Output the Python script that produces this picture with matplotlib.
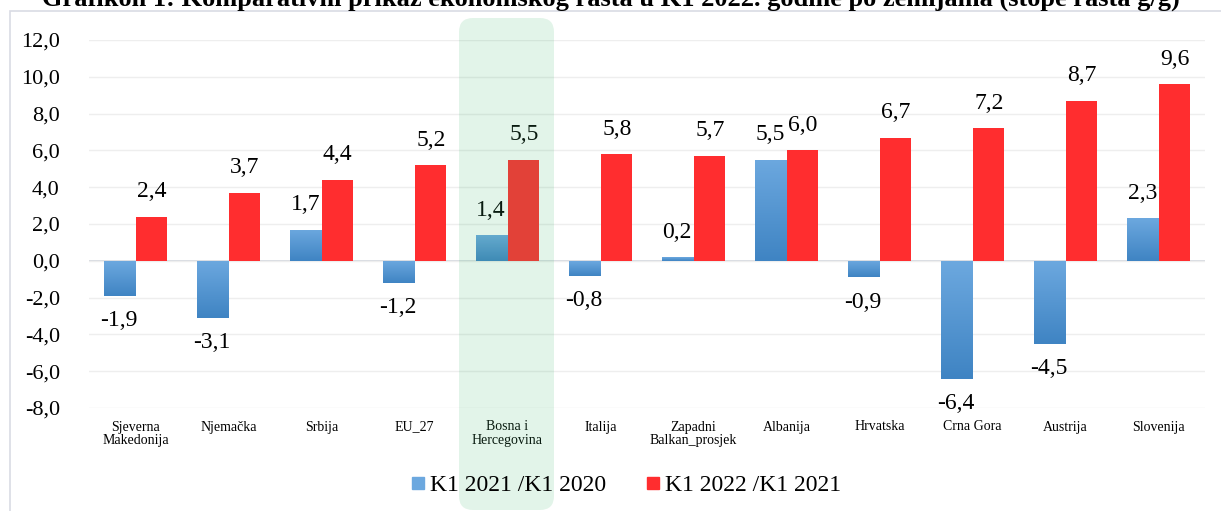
import numpy as np
import matplotlib
matplotlib.use("Agg")
import matplotlib.pyplot as plt
from matplotlib.patches import FancyBboxPatch, Rectangle
from matplotlib.colors import LinearSegmentedColormap

plt.rcParams["font.family"] = ["Liberation Serif", "DejaVu Serif"]

# ─────────────────────────────────────────────
# 資料
# ─────────────────────────────────────────────
categories = [
    "Sjeverna\nMakedonija", "Njemačka", "Srbija", "EU_27", "Bosna i\nHercegovina",
    "Italija", "Zapadni\nBalkan_prosjek", "Albanija", "Hrvatska", "Crna Gora",
    "Austrija", "Slovenija",
]
k1_2021 = [-1.9, -3.1, 1.7, -1.2, 1.4, -0.8, 0.2, 5.5, -0.9, -6.4, -4.5, 2.3]
k1_2022 = [2.4, 3.7, 4.4, 5.2, 5.5, 5.8, 5.7, 6.0, 6.7, 7.2, 8.7, 9.6]
series_names = ["K1 2021 /K1 2020", "K1 2022 /K1 2021"]
y_ticks = [-8, -6, -4, -2, 0, 2, 4, 6, 8, 10, 12]
title = ("Grafikon 1: Komparativni prikaz ekonomskog rasta u K1 2022. godine "
         "po zemljama (stope rasta g/g)")

BLUE_TOP = "#6ca8df"
BLUE_BOT = "#3f84c3"
RED = "#ff2d2f"

W, H = 1221, 511
fig = plt.figure(figsize=(W / 100, H / 100), dpi=100)
ax = fig.add_axes([89 / W, 1 - 408 / H, (1205 - 89) / W, (408 - 40) / H])

x = np.arange(len(categories))
bw = 0.335
off = 0.175

blue_bars = ax.bar(x - off, k1_2021, bw, color=BLUE_TOP, zorder=2)
red_bars = ax.bar(x + off, k1_2022, bw, color=RED, zorder=2)

# 藍色漸層（上淺下深）
grad = np.linspace(0, 1, 100).reshape(-1, 1)
cmap = LinearSegmentedColormap.from_list("bl", [BLUE_TOP, BLUE_BOT])
for b in blue_bars:
    x0, y0 = b.get_x(), b.get_y()
    h = b.get_height()
    lo, hi = min(y0, y0 + h), max(y0, y0 + h)
    im = ax.imshow(grad, extent=[x0, x0 + b.get_width(), lo, hi], aspect="auto",
                   cmap=cmap, zorder=2.5, origin="upper")
    im.set_clip_path(b)

ax.set_xlim(-0.5, len(categories) - 0.5)
ax.set_ylim(-8, 12)
ax.set_yticks(y_ticks)
ax.set_yticklabels([f"{v:.1f}".replace(".", ",") for v in y_ticks], fontsize=16)
ax.set_xticks(x)
ax.set_xticklabels(categories, fontsize=10, linespacing=1.05)
ax.tick_params(axis="both", length=0)
ax.tick_params(axis="y", pad=21)
ax.tick_params(axis="x", pad=9)
ax.grid(axis="y", color="#eeeeee", linewidth=1, zorder=0)
ax.axhline(0, color="#d0d4dc", linewidth=1.2, zorder=1)
for s in ax.spines.values():
    s.set_visible(False)

# 數值標籤
for xi, v in zip(x - off, k1_2021):
    ax.annotate(f"{v:.1f}".replace(".", ","), (xi, v),
                xytext=(0, 18 if v >= 0 else -18), textcoords="offset points",
                ha="center", va="center", fontsize=17, zorder=3)
for xi, v in zip(x + off, k1_2022):
    ax.annotate(f"{v:.1f}".replace(".", ","), (xi, v),
                xytext=(0, 18), textcoords="offset points",
                ha="center", va="center", fontsize=17, zorder=3)

# 圖例
handles = [
    plt.Line2D([], [], marker="s", linestyle="none", markersize=9, color=BLUE_TOP),
    plt.Line2D([], [], marker="s", linestyle="none", markersize=9, color=RED),
]
fig.legend(handles, series_names, loc="center", bbox_to_anchor=(625 / W, 1 - 485 / H),
           ncol=2, frameon=False, fontsize=17, handletextpad=0.1, columnspacing=1.6,
           handlelength=0.8)

# 外框
fig.add_artist(Rectangle((10, -5), 1400, H - 11 + 5, transform=None, fill=False,
                         edgecolor="#d9dbe4", linewidth=1.2, zorder=-1))

# 波黑標示帶
fig.add_artist(FancyBboxPatch((459, 1), 95, H - 18 - 1,
                              boxstyle="round,pad=0,rounding_size=14", transform=None,
                              facecolor="#3eb66c", alpha=0.15, edgecolor="none", zorder=5))

fig.text(0.5, 1 - 6 / H, title, ha="center", va="baseline", fontsize=19,
         fontweight="bold")

fig.savefig("out.png", dpi=100)
